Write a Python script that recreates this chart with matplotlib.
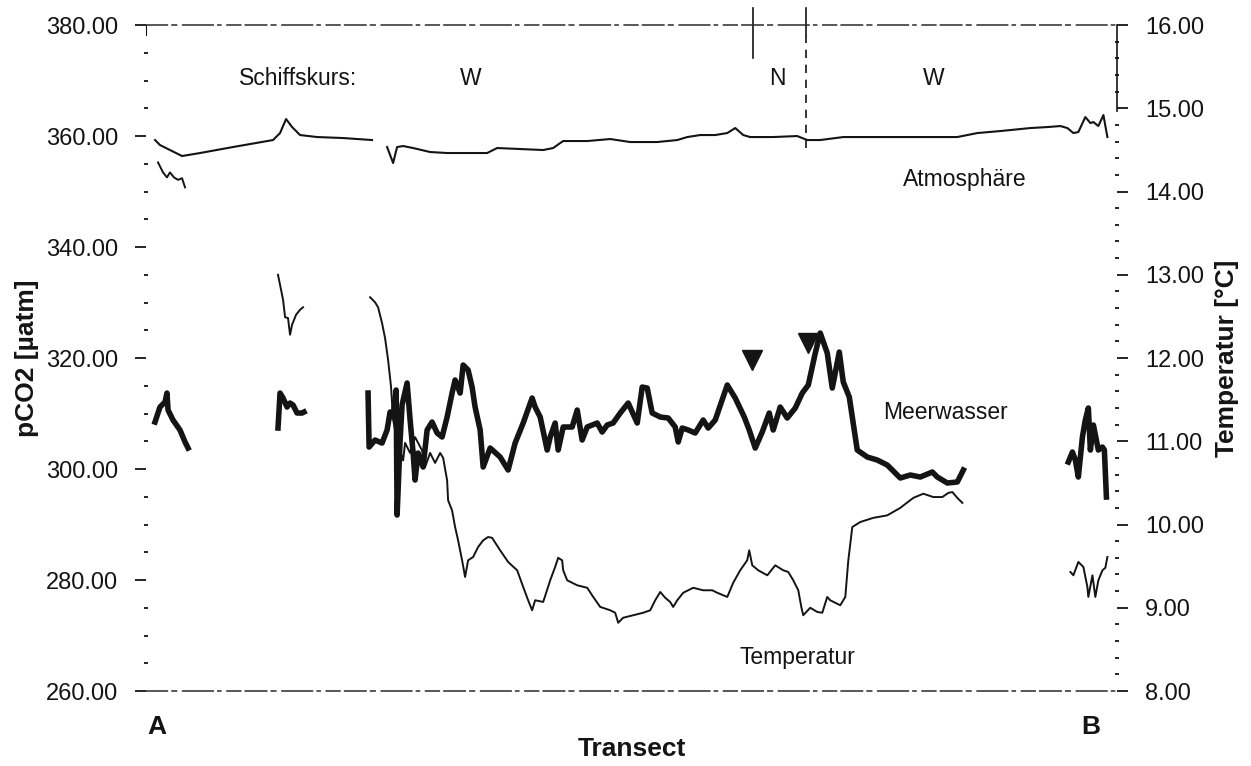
import numpy as np
import matplotlib.pyplot as plt
from matplotlib.ticker import MultipleLocator, FormatStrFormatter
import matplotlib.transforms as mtransforms

plt.rcParams['font.family'] = ['Liberation Sans', 'DejaVu Sans']

nan = float('nan')

# pCO2 of the air along the transect (uatm), nan = gap in the record
atm_x = [0.93, 1.44, 2.47, 3.71, 5.56, 8.96, 13.08, 13.80, 14.42, 15.04, 15.86, 17.61, 20.29, 23.27, nan,
         24.82, 25.44, 25.85, 26.47, 27.50, 29.25, 31.00, 32.65, 35.12, 36.15, 38.52, 40.89, 41.92, 42.64,
         42.95, 45.42, 47.79, 49.85, 52.63, 54.69, 55.72, 57.06, 58.60, 59.84, 60.66, 61.48, 62.20, 64.57,
         67.04, 68.07, 69.41, 71.78, 74.25, 77.65, 81.05, 83.52, 85.58, 87.95, 91.04, 92.79, 94.13, 94.85,
         95.47, 95.98, 96.70, 97.22, 97.53, 98.04, 98.56, 98.97]
atm_p = [359.28, 358.38, 357.48, 356.40, 356.94, 358.02, 359.28, 360.54, 363.06, 361.62, 360.18, 359.82, 359.64, 359.28, nan,
         358.02, 355.14, 358.02, 358.20, 357.84, 357.12, 356.94, 356.94, 356.94, 357.84, 357.66, 357.48, 357.84, 358.74,
         359.10, 359.10, 359.46, 358.92, 358.92, 359.28, 359.82, 360.18, 360.18, 360.54, 361.44, 360.18, 359.82, 359.82,
         360.00, 359.28, 359.28, 359.82, 359.82, 359.82, 359.82, 359.82, 360.54, 360.90, 361.44, 361.62, 361.80, 361.44,
         360.54, 360.72, 363.42, 362.34, 362.52, 361.80, 363.78, 359.82]

# pCO2 of the sea water (uatm)
sea_x = [0.93, 1.44, 1.96, 2.16, 2.27, 2.78, 3.50, 4.02, 4.33, nan,
         13.59, 13.80, 14.11, 14.52, 14.83, 15.14, 15.55, 16.07, 16.27, nan,
         22.86, 22.97, 23.58, 24.30, 24.82, 25.13, 25.44, 25.75, 25.85, 26.16, 26.36, 26.88, 27.19, 27.50,
         27.70, 28.01, 28.53, 28.94, 29.45, 29.97, 30.48, 31.00, 31.51, 31.82, 32.34, 32.65, 33.16, 33.57,
         33.88, 34.40, 34.71, 35.43, 36.46, 37.28, 38.00, 38.83, 39.75, 40.06, 40.58, 41.30, 41.61, 42.12,
         42.43, 42.95, 43.87, 44.39, 44.90, 45.42, 46.45, 46.96, 47.48, 48.09, 48.82, 49.64, 50.57, 51.08,
         51.60, 52.11, 52.94, 53.76, 54.48, 54.79, 55.20, 55.82, 56.54, 57.36, 57.88, 58.60, 59.84, 60.66,
         61.59, 62.10, 62.72, 63.44, 64.16, 64.57, 65.29, 66.01, 66.84, 67.56, 68.18, 68.90, 69.41, 70.13,
         70.65, 71.37, 71.78, 72.40, 73.22, 74.25, 75.28, 76.31, 77.65, 78.68, 79.71, 80.95, 81.46, 82.49,
         83.52, 84.14, nan,
         94.95, 95.37, 95.67, 95.98, 96.40, 96.70, 97.01, 97.22, 97.53, 98.04, 98.46, 98.66, 98.87]
sea_p = [308.47, 311.17, 312.07, 313.69, 310.63, 308.83, 307.03, 304.87, 303.78, nan,
         307.39, 313.69, 312.79, 311.17, 311.89, 311.53, 310.09, 310.09, 310.27, nan,
         313.69, 303.96, 305.22, 304.68, 307.03, 310.27, 309.37, 314.23, 291.71, 305.23, 311.53, 315.50, 308.83, 302.88,
         298.02, 302.88, 300.36, 307.03, 308.47, 306.49, 305.77, 309.37, 313.69, 316.04, 313.69, 318.74, 317.84, 314.77,
         311.17, 307.03, 300.36, 303.78, 302.16, 299.82, 304.68, 308.29, 312.79, 311.17, 309.37, 303.42, 305.77, 308.29,
         303.42, 307.57, 307.57, 310.63, 305.23, 307.57, 308.29, 306.67, 307.93, 308.29, 310.09, 311.89, 308.29, 314.77,
         314.59, 310.09, 309.37, 309.19, 307.57, 304.87, 307.39, 307.03, 306.49, 308.83, 307.39, 308.83, 315.14, 312.79,
         309.37, 307.03, 303.78, 306.67, 310.09, 307.03, 311.17, 309.19, 310.99, 313.69, 315.14, 320.90, 324.50, 320.90,
         314.59, 321.08, 315.68, 312.97, 303.42, 302.16, 301.62, 300.72, 298.38, 298.92, 298.56, 299.46, 298.56, 297.48,
         297.66, 299.82, nan,
         301.26, 303.06, 301.62, 298.56, 305.77, 308.83, 310.99, 303.42, 307.93, 303.42, 303.96, 303.42, 294.95]

# sea surface temperature (degC, right axis)
temp_x = [1.24, 1.75, 2.16, 2.47, 2.88, 3.30, 3.71, 4.02, nan,
          13.59, 14.11, 14.32, 14.62, 14.83, 15.04, 15.45, 15.86, 16.17, nan,
          23.07, 23.58, 23.89, 24.30, 24.61, 24.92, 25.23, 25.44, 25.85, 26.47, 26.67, 27.19, 27.70, 28.42,
          28.73, 29.25, 29.76, 30.28, 30.59, 31.00, 31.10, 31.51, 31.82, 32.13, 32.54, 32.85, 33.16, 33.68,
          34.19, 34.71, 35.22, 35.63, 36.46, 37.28, 38.21, 38.83, 39.34, 39.75, 40.06, 40.89, 41.61, 42.12,
          42.43, 42.84, 42.95, 43.36, 44.39, 45.42, 46.04, 46.76, 47.79, 48.30, 48.61, 49.12, 50.15, 51.18,
          51.91, 52.42, 52.94, 53.45, 53.96, 54.27, 54.69, 55.30, 56.33, 57.36, 58.29, 58.81, 59.84, 60.45,
          61.17, 61.89, 62.10, 62.41, 63.03, 63.96, 64.78, 65.60, 66.12, 66.63, 67.15, 67.46, 67.66, 68.38,
          69.10, 69.62, 70.13, 70.44, 70.96, 71.47, 71.99, 72.30, 72.71, 73.53, 74.87, 76.31, 77.65, 78.99,
          80.02, 81.05, 81.98, 82.60, 83.01, 83.52, 84.04, nan,
          95.16, 95.47, 95.98, 96.50, 96.91, 97.01, 97.43, 97.73, 98.04, 98.46, 98.76, 98.97]
temp_t = [14.35, 14.23, 14.17, 14.23, 14.17, 14.14, 14.16, 14.05, nan,
          13.00, 12.70, 12.49, 12.48, 12.28, 12.40, 12.52, 12.58, 12.61, nan,
          12.73, 12.67, 12.61, 12.42, 12.24, 11.98, 11.65, 11.26, 11.01, 10.77, 10.98, 10.86, 11.05, 10.89,
          10.69, 10.86, 10.74, 10.86, 10.80, 10.53, 10.29, 10.17, 9.97, 9.81, 9.57, 9.37, 9.57, 9.61,
          9.73, 9.81, 9.85, 9.84, 9.69, 9.55, 9.45, 9.25, 9.09, 8.97, 9.09, 9.07, 9.33, 9.49,
          9.60, 9.57, 9.45, 9.33, 9.27, 9.24, 9.13, 9.01, 8.97, 8.94, 8.82, 8.88, 8.91, 8.94,
          8.97, 9.09, 9.19, 9.12, 9.07, 9.01, 9.09, 9.18, 9.24, 9.21, 9.21, 9.18, 9.13, 9.30,
          9.45, 9.57, 9.69, 9.51, 9.45, 9.39, 9.51, 9.45, 9.43, 9.33, 9.21, 9.01, 8.91, 9.00,
          8.95, 8.94, 9.13, 9.09, 9.06, 9.03, 9.13, 9.57, 9.97, 10.03, 10.08, 10.11, 10.20, 10.32,
          10.37, 10.33, 10.33, 10.38, 10.39, 10.32, 10.26, nan,
          9.43, 9.39, 9.55, 9.49, 9.25, 9.13, 9.39, 9.13, 9.33, 9.45, 9.48, 9.61]

# course changes of the ship and the marked sea water peaks
turn_x = [62.51, 67.97]
peak_x = [62.4, 68.1]
peak_p = [319.6, 322.7]
course_x = [33.4, 65.0, 81.05]
course_lbl = ['W', 'N', 'W']

ink = '#141414'
fig = plt.figure(figsize=(12.51, 7.66), dpi=100)
ax = fig.add_axes([0.1167, 0.0979, 0.7765, 0.8694])
ax2 = ax.twinx()

ax.plot(atm_x, atm_p, color=ink, lw=1.5)
ax.plot(sea_x, sea_p, color=ink, lw=4.0, solid_joinstyle='round')
ax2.plot(temp_x, temp_t, color=ink, lw=1.4)
ax.plot(peak_x, peak_p, 'v', color=ink, ms=14, ls='none')

ax.set_xlim(0, 100)
ax.set_ylim(260, 380)
ax2.set_ylim(8, 16)

# ship course marks above the atmosphere line
ax.axvline(turn_x[0], ymin=0.951, ymax=1.026, color=ink, lw=1.2, clip_on=False)
ax.axvline(turn_x[1], ymin=0.985, ymax=1.026, color=ink, lw=1.2, clip_on=False)
ax.axvline(turn_x[1], ymin=0.815, ymax=0.985, color=ink, lw=1.2, ls=(0, (5, 4)))

txt = dict(fontsize=16.5, ha='center', va='center', color=ink)
ax.text(15.65, 370.45, 'Schiffskurs:', **txt)
for cx, cl in zip(course_x, course_lbl):
    ax.text(cx, 370.3, cl, **txt)
ax.text(84.3, 352.1, 'Atmosphäre', **txt)
ax.text(82.3, 310.1, 'Meerwasser', **txt)
ax.text(67.1, 266.1, 'Temperatur', **txt)

# transect end points
trans = mtransforms.blended_transform_factory(ax.transData, ax.transAxes)
ax.text(1.13, -0.054, 'A', transform=trans, fontsize=19, fontweight='bold', ha='center', va='center', color=ink)
ax.text(97.3, -0.054, 'B', transform=trans, fontsize=19, fontweight='bold', ha='center', va='center', color=ink)

ax.set_xticks([])
ax.yaxis.set_major_locator(MultipleLocator(20))
ax.yaxis.set_minor_locator(MultipleLocator(5))
ax.yaxis.set_major_formatter(FormatStrFormatter('%.2f'))
ax2.yaxis.set_major_locator(MultipleLocator(1))
ax2.yaxis.set_minor_locator(MultipleLocator(0.2))
ax2.yaxis.set_major_formatter(FormatStrFormatter('%.2f'))
for a in (ax, ax2):
    a.tick_params(which='major', direction='out', length=8, width=1.3, pad=12,
                  labelsize=17, colors=ink)
    a.tick_params(which='minor', direction='inout', length=3, width=1.3, colors=ink)

ax.set_xlabel('Transect', fontsize=19, fontweight='bold', labelpad=33, color=ink)
ax.set_ylabel('pCO2 [µatm]', fontsize=19, fontweight='bold', labelpad=5, color=ink)
ax2.set_ylabel('Temperatur [°C]', fontsize=19, fontweight='bold', labelpad=8, color=ink)

# broken frame lines at top and bottom, spine pieces left and right
dash = (0, (14, 3, 3, 4, 20, 3, 2, 4, 9, 3))
for s in ('top', 'bottom'):
    ax.spines[s].set_linestyle(dash)
    ax.spines[s].set_linewidth(1.1)
    ax.spines[s].set_color('#2a2a2a')
ax.spines['right'].set_visible(False)
ax.spines['left'].set_bounds(378.2, 380)
ax.spines['left'].set_color(ink)
for s in ('top', 'bottom', 'left'):
    ax2.spines[s].set_visible(False)
ax2.spines['right'].set_bounds(14.97, 16)
ax2.spines['right'].set_color(ink)
ax2.spines['right'].set_linewidth(1.2)

fig.savefig('out.png', dpi=100)
